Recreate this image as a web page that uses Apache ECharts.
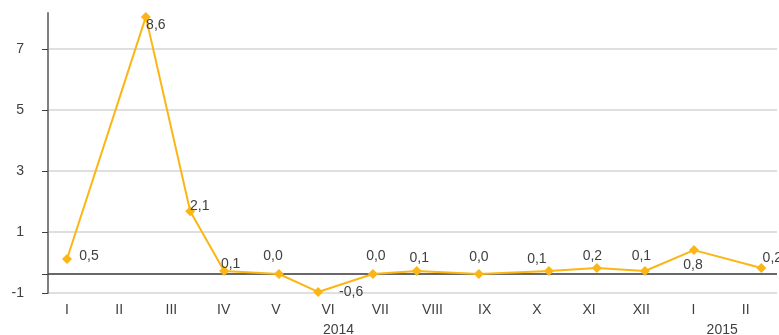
<!DOCTYPE html>
<html>
<head>
<meta charset="utf-8">
<script src="https://cdn.jsdelivr.net/npm/echarts@6/dist/echarts.min.js"></script>
<style>
html,body{margin:0;padding:0;background:#fff;}
#chart{width:779px;height:335px;}
</style>
</head>
<body>
<div id="chart"></div>
<script>
// Month tick labels (category positions 0..13)
const monthLabels = ['I','II','III','IV','V','VI','VII','VIII','IX','X','XI','XII','I','II'];
// Year labels and where they sit along the month axis
const yearLabels = ['2014','2015'];
const yearPositions = [5.2, 12.55];
// Horizontal placement of each point along the month axis
const pointMonthPos = [0, 1.51, 2.36, 3.01, 4.06, 4.81, 5.86, 6.70, 7.89, 9.23, 10.15, 11.07, 12.01, 13.30];
// Values as printed on the chart
const values = [0.5, 8.6, 2.1, 0.1, 0.0, -0.6, 0.0, 0.1, 0.0, 0.1, 0.2, 0.1, 0.8, 0.2];
// Y axis ticks: positions and printed labels
const yTickValues = [-0.635, 1.405, 3.445, 5.485, 7.525];
const yTickLabels = ['-1', '1', '3', '5', '7'];

const FONT = '"Liberation Sans", Arial, sans-serif';
const TEXT = '#404040';
const LINE = '#FBB615';

// label offsets (style only)
const labelStyleOffsets = [
  [22,-3],[10,8.5],[9.5,-5.5],[6.5,-6.5],[-6,-18],[33,0],[3,-17.5],
  [2.5,-12.5],[0,-16.5],[-12,-11.5],[-4.5,-11.5],[-3.5,-14.5],[-1,15],[11,-10]
];

const seriesData = values.map((v, i) => ({
  value: [pointMonthPos[i], v],
  label: { position: 'inside', offset: labelStyleOffsets[i] }
}));

const xMin = -0.364, xMax = 13.6;
const chart = echarts.init(document.getElementById('chart'), null, {renderer: 'canvas'});
chart.setOption({
  animation: false,
  backgroundColor: '#fff',
  grid: { left: 48, right: 2, top: 13, bottom: 42, containLabel: false, outerBoundsMode: 'none' },
  xAxis: [{
    type: 'value', min: xMin, max: xMax, position: 'bottom',
    axisLine: { show: false }, axisTick: { show: false }, splitLine: { show: false },
    axisLabel: {
      customValues: monthLabels.map((_, i) => i),
      formatter: v => monthLabels[Math.round(v)],
      color: TEXT, fontFamily: FONT, fontSize: 14, margin: 10
    }
  }, {
    type: 'value', min: xMin, max: xMax, position: 'bottom', offset: 20,
    axisLine: { show: false }, axisTick: { show: false }, splitLine: { show: false },
    axisLabel: {
      customValues: yearPositions,
      formatter: v => yearLabels[yearPositions.indexOf(v)],
      color: TEXT, fontFamily: FONT, fontSize: 14, margin: 10
    }
  }],
  yAxis: {
    type: 'value', min: -0.635, max: 8.73,
    axisLine: { show: true, onZero: false, lineStyle: { color: '#7f7f7f', width: 2 } },
    axisTick: { show: true, length: 6, customValues: yTickValues.concat([0]), lineStyle: { color: '#404040', width: 1 } },
    splitLine: { show: true, lineStyle: { color: '#d4d4d4', width: 1.5 } },
    axisLabel: {
      customValues: yTickValues,
      formatter: v => yTickLabels[yTickValues.indexOf(v)],
      color: TEXT, fontFamily: FONT, fontSize: 14, margin: 24
    }
  },
  series: [{
    type: 'line',
    xAxisIndex: 0,
    data: seriesData,
    symbol: 'diamond', symbolSize: 10,
    clip: false,
    itemStyle: { color: LINE },
    lineStyle: { color: LINE, width: 2 },
    label: {
      show: true, color: TEXT, fontFamily: FONT, fontSize: 14,
      formatter: p => p.value[1].toFixed(1).replace('.', ',')
    },
    z: 3,
    markLine: {
      silent: true, symbol: 'none', animation: false,
      label: { show: false },
      lineStyle: { color: '#404040', width: 1.5, type: 'solid' },
      data: [{ yAxis: 0 }],
      z: 2
    }
  }]
});
</script>
</body>
</html>
